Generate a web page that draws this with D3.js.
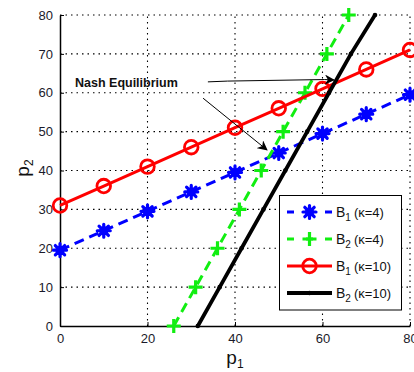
<!DOCTYPE html>
<html>
<head>
<meta charset="utf-8">
<script src="https://cdn.jsdelivr.net/npm/d3@7"></script>
<style>
  html, body { margin: 0; padding: 0; background: #fff; }
  svg { display: block; font-family: "Liberation Sans", Arial, sans-serif; }
</style>
</head>
<body>
<div id="chart"></div>
<script>
// p1 grid for the B1 curves, p2 grid for the B2 curves
var p1Grid = [0, 10, 20, 30, 40, 50, 60, 70, 80];
var b1k4 = [19.5, 24.5, 29.5, 34.5, 39.5, 44.5, 49.5, 54.5, 59.5];
var b1k10 = [31, 36, 41, 46, 51, 56, 61, 66, 71];
var p2Grid = [0, 10, 20, 30, 40, 50, 60, 70, 80];
var b2k4 = [26, 31, 36, 41, 46, 51, 56, 61, 66];
var b2k10 = [31.5, 36.5, 41.5, 46.5, 51.5, 56.5, 61.5, 66.5, 72];

var xTicks = [0, 20, 40, 60, 80];
var yTicks = [0, 10, 20, 30, 40, 50, 60, 70, 80];
var legendLabels = [["1", "(κ=4)"], ["2", "(κ=4)"], ["1", "(κ=10)"], ["2", "(κ=10)"]];

// annotation arrows, [start, end] in data units
var annotText = "Nash Equilibrium";
var arrows = [
    [[33.8, 62.8], [38.3, 63.0], [60.5, 63.4], [62.6, 63.3]],
    [[32.7, 58.6], [47.3, 45.3]]
];

var width = 414, height = 372;
var x = d3.scaleLinear().domain([0, 80]).range([60, 410]);
var y = d3.scaleLinear().domain([0, 80]).range([326, 15]);

var svg = d3.select("#chart").append("svg")
    .attr("width", width)
    .attr("height", height);

var defs = svg.append("defs");
defs.append("marker")
    .attr("id", "head")
    .attr("viewBox", "0 0 10 10")
    .attr("refX", 9).attr("refY", 5)
    .attr("markerWidth", 10).attr("markerHeight", 10)
    .attr("markerUnits", "userSpaceOnUse")
    .attr("orient", "auto")
    .append("path")
    .attr("d", "M0,0 L10,5 L0,10 L3,5z")
    .attr("fill", "#000");

// grid
var grid = svg.append("g").attr("stroke", "#000").attr("stroke-width", 1.1)
    .attr("stroke-dasharray", "1.5,4");
grid.selectAll(".gx").data(xTicks.slice(1)).enter().append("line")
    .attr("x1", function(d){ return x(d); }).attr("x2", function(d){ return x(d); })
    .attr("y1", y(0)).attr("y2", y(80));
grid.selectAll(".gy").data(yTicks.slice(1)).enter().append("line")
    .attr("x1", x(0)).attr("x2", x(80))
    .attr("y1", function(d){ return y(d); }).attr("y2", function(d){ return y(d); });

// axes
var xAxis = d3.axisBottom(x).tickValues(xTicks).tickSizeInner(-4).tickSizeOuter(0).tickPadding(8);
var yAxis = d3.axisLeft(y).tickValues(yTicks).tickSizeInner(-4).tickSizeOuter(0).tickPadding(7);

var gx = svg.append("g").attr("transform", "translate(0," + y(0) + ")").call(xAxis);
var gy = svg.append("g").attr("transform", "translate(" + x(0) + ",0)").call(yAxis);
[gx, gy].forEach(function(g){
    g.select(".domain").attr("stroke", "#000").attr("stroke-width", 1.5);
    g.selectAll(".tick line").attr("stroke", "#000").attr("stroke-width", 1);
    g.selectAll(".tick text").attr("font-size", 13).attr("fill", "#1a1a2a")
        .attr("font-family", "Liberation Sans, Arial, sans-serif");
});

function asterisk(s) {
    return "M" + (-s) + ",0H" + s + "M0," + (-s) + "V" + s +
        "M" + (-s * 0.72) + "," + (-s * 0.72) + "L" + (s * 0.72) + "," + (s * 0.72) +
        "M" + (-s * 0.72) + "," + (s * 0.72) + "L" + (s * 0.72) + "," + (-s * 0.72);
}
function plus(s) {
    return "M" + (-s) + ",0H" + s + "M0," + (-s) + "V" + s;
}

var b1k4Pts = p1Grid.map(function(d, i){ return [d, b1k4[i]]; });
var b1k10Pts = p1Grid.map(function(d, i){ return [d, b1k10[i]]; });
var b2k4Pts = p2Grid.map(function(d, i){ return [b2k4[i], d]; });
var b2k10Pts = p2Grid.map(function(d, i){ return [b2k10[i], d]; });

var line = d3.line().x(function(d){ return x(d[0]); }).y(function(d){ return y(d[1]); });

var series = [
    {pts: b1k4Pts, color: "#0000ff", dash: "10,6", w: 3, marker: "ast"},
    {pts: b2k4Pts, color: "#11ee11", dash: "10,6", w: 3, marker: "plus"},
    {pts: b1k10Pts, color: "#ff0000", dash: null, w: 3, marker: "circle"},
    {pts: b2k10Pts, color: "#000000", dash: null, w: 3.8, marker: "dot"}
];

function drawMarker(g, m, color) {
    if (m == "ast") {
        g.append("path").attr("d", asterisk(6.5)).attr("stroke", color)
            .attr("stroke-width", 3.2).attr("stroke-linecap", "round").attr("fill", "none");
        g.append("circle").attr("r", 4.5).attr("fill", color);
    } else if (m == "plus") {
        g.append("path").attr("d", plus(7)).attr("stroke", color)
            .attr("stroke-width", 3.2).attr("fill", "none");
    } else if (m == "circle") {
        g.append("circle").attr("r", 6.8).attr("stroke", color)
            .attr("stroke-width", 2.8).attr("fill", "none");
    } else {
        g.append("circle").attr("r", 2.3).attr("fill", color);
    }
}

series.forEach(function(s){
    svg.append("path").datum(s.pts)
        .attr("d", line)
        .attr("fill", "none")
        .attr("stroke", s.color)
        .attr("stroke-width", s.w)
        .attr("stroke-dasharray", s.dash);
    svg.append("g").selectAll("g").data(s.pts).enter().append("g")
        .attr("transform", function(d){ return "translate(" + x(d[0]) + "," + y(d[1]) + ")"; })
        .each(function(){ drawMarker(d3.select(this), s.marker, s.color); });
});

// annotation
svg.append("text").attr("x", 75).attr("y", 86.5)
    .attr("font-size", 12.5).attr("font-weight", "bold").attr("fill", "#111")
    .text(annotText);
arrows.forEach(function(a){
    svg.append("path").datum(a).attr("d", line)
        .attr("fill", "none").attr("stroke", "#000").attr("stroke-width", 1)
        .attr("marker-end", "url(#head)");
});

// legend
var leg = svg.append("g");
leg.append("rect").attr("x", 279.5).attr("y", 195.5).attr("width", 122).attr("height", 114.5)
    .attr("fill", "#fff").attr("stroke", "#000").attr("stroke-width", 1);
var rowY = d3.scaleLinear().domain([0, 3]).range([212, 293]);
series.forEach(function(s, i){
    var ry = rowY(i);
    leg.append("line").attr("x1", 287).attr("x2", 332).attr("y1", ry).attr("y2", ry)
        .attr("stroke", s.color).attr("stroke-width", s.w)
        .attr("stroke-dasharray", s.dash ? "7,12" : null);
    drawMarker(leg.append("g").attr("transform", "translate(309.5," + ry + ")"), s.marker, s.color);
    var t = leg.append("text").attr("x", 336).attr("y", ry + 5).attr("font-size", 14).attr("fill", "#111");
    t.append("tspan").text("B");
    t.append("tspan").attr("font-size", 10).attr("dy", 4).text(legendLabels[i][0]);
    t.append("tspan").attr("font-size", 13).attr("dy", -4).attr("dx", 3).text(legendLabels[i][1]);
});

// axis labels
var xl = svg.append("text").attr("x", 235).attr("y", 364).attr("text-anchor", "middle")
    .attr("font-size", 19).attr("fill", "#111");
xl.append("tspan").text("p");
xl.append("tspan").attr("font-size", 12).attr("dy", 4).text("1");

var yl = svg.append("text").attr("transform", "translate(29,168) rotate(-90)")
    .attr("text-anchor", "middle").attr("font-size", 19).attr("fill", "#111");
yl.append("tspan").text("p");
yl.append("tspan").attr("font-size", 12).attr("dy", 4).text("2");
</script>
</body>
</html>
